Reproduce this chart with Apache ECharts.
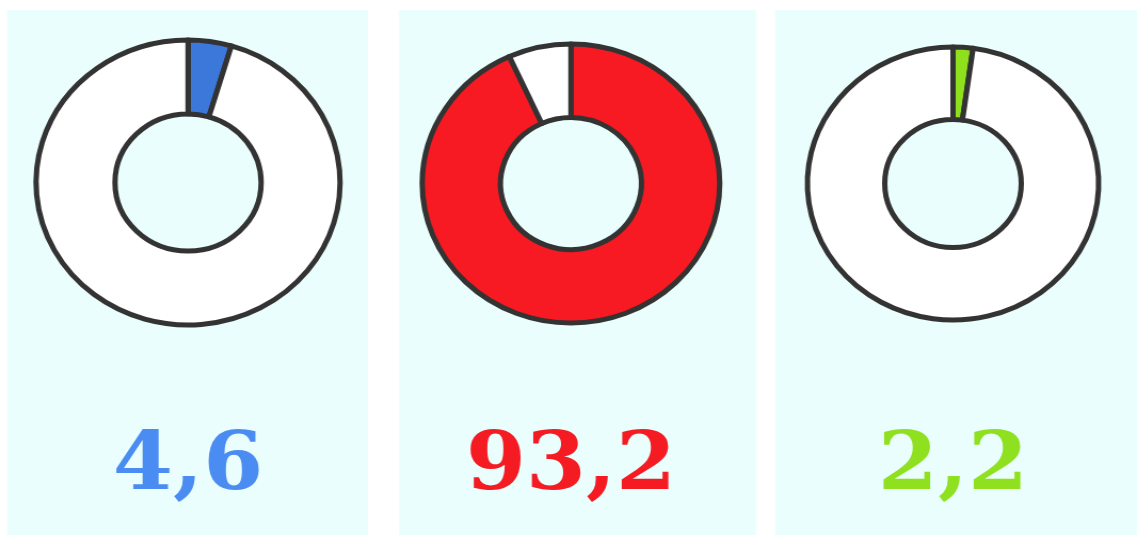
<!DOCTYPE html>
<html>
<head>
<meta charset="utf-8">
<script src="https://cdn.jsdelivr.net/npm/echarts@6/dist/echarts.min.js"></script>
<style>
  html, body { margin: 0; padding: 0; background: #ffffff; overflow: hidden; }
  /* reference is slightly stretched horizontally, so the whole chart is too */
  #chart { width: 1066px; height: 535px; transform: scaleX(1.0666); transform-origin: 0 0; }
</style>
</head>
<body>
<div id="chart"></div>
<script>
// shares in percent, one donut each
const shares = [4.6, 93.2, 2.2];
const sliceColors = ['#3b78d9', '#f81a22', '#8ee01c'];
const textColors = ['#4a8cf2', '#f51b23', '#8fe01f'];

// panel boxes and donut geometry (chart px)
const panels = [
    { x: 6.6, w: 338.5, cx: 176.3, cy: 182.5, r0: 68.5, r1: 142.5 },
    { x: 374.1, w: 334.7, cx: 535.3, cy: 183.5, r0: 66, r1: 139.5 },
    { x: 726.6, w: 339.4, cx: 893.5, cy: 183.5, r0: 64, r1: 136.5 }
];

const chart = echarts.init(document.getElementById('chart'), null, { renderer: 'canvas' });

const graphics = [];
panels.forEach((p, i) => {
    graphics.push({
        type: 'rect', z: -10,
        shape: { x: p.x, y: 10, width: p.w, height: 525 },
        style: { fill: '#eafffd' }
    });
    graphics.push({
        type: 'text', z: 10,
        x: p.cx, y: 468,
        style: {
            text: String(shares[i]).replace('.', ','),
            fill: textColors[i],
            font: 'bold 81px "DejaVu Serif", serif',
            textAlign: 'center',
            textVerticalAlign: 'middle'
        }
    });
});

const series = panels.map((p, i) => ({
    type: 'pie',
    silent: true,
    center: [p.cx, p.cy],
    radius: [p.r0, p.r1],
    startAngle: 90,
    clockwise: true,
    label: { show: false },
    labelLine: { show: false },
    itemStyle: { borderColor: '#333333', borderWidth: 5 },
    data: [
        { value: shares[i], itemStyle: { color: sliceColors[i] } },
        { value: 100 - shares[i], itemStyle: { color: '#ffffff' } }
    ]
}));

chart.setOption({
    animation: false,
    backgroundColor: '#ffffff',
    graphic: graphics,
    series: series
});
</script>
</body>
</html>
